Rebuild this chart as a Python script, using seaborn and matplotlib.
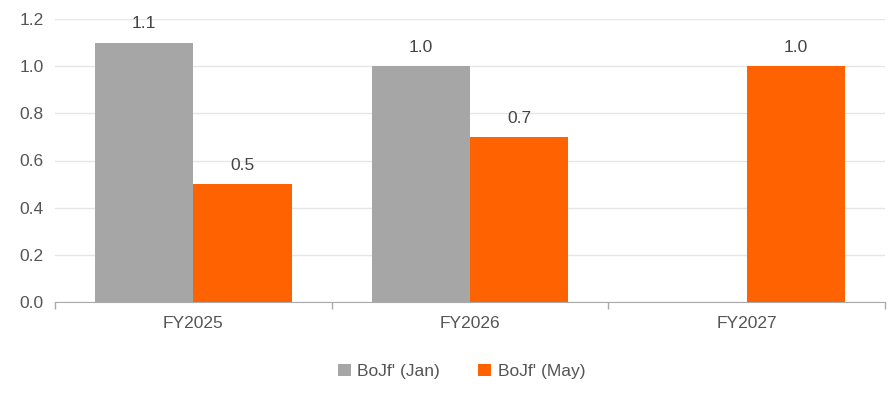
import matplotlib
matplotlib.use("Agg")
import matplotlib.pyplot as plt
import seaborn as sns
import pandas as pd
import numpy as np

categories = ["FY2025", "FY2026", "FY2027"]
jan_values = [1.1, 1.0, np.nan]
may_values = [0.5, 0.7, 1.0]
series_names = ["BoJf' (Jan)", "BoJf' (May)"]
y_ticks = [0.0, 0.2, 0.4, 0.6, 0.8, 1.0, 1.2]

df = pd.DataFrame({
    "cat": categories * 2,
    "series": [series_names[0]] * 3 + [series_names[1]] * 3,
    "value": jan_values + may_values,
})

sns.set_style("white")
plt.rcParams['font.family'] = ['Liberation Sans', 'DejaVu Sans']

fig = plt.figure(figsize=(8.9, 3.94), dpi=100)
ax = fig.add_axes([55/890, (394-302)/394, (885-55)/890, (302-19)/394])

sns.barplot(data=df, x="cat", y="value", hue="series",
            palette=["#a6a6a6", "#ff6200"], width=0.71, ax=ax,
            saturation=1, errorbar=None, zorder=3, linewidth=0)

ax.set_ylim(0, 1.2)
ax.set_xlim(-0.5, 2.5)
ax.set_yticks(y_ticks)
ax.set_yticklabels([f"{v:.1f}" for v in y_ticks])
ax.yaxis.grid(True, color="#e6e6e6", linewidth=1, zorder=0)
ax.set_axisbelow(True)
for s in ["left", "right", "top"]:
    ax.spines[s].set_visible(False)
ax.spines["bottom"].set_color("#aaaaaa")
ax.set_xlabel("")
ax.set_ylabel("")
fs = 12.5
ax.tick_params(axis="y", length=0, labelsize=fs, labelcolor="#555555", pad=8)
ax.tick_params(axis="x", which="major", length=0, labelsize=fs, labelcolor="#555555", pad=10)
ax.set_xticks([-0.5, 0.5, 1.5, 2.5], minor=True)
ax.tick_params(axis="x", which="minor", bottom=True, length=5, width=1, color="#aaaaaa")

for cont in ax.containers:
    labels = ["" if np.isnan(v) else f"{v:.1f}" for v in cont.datavalues]
    ax.bar_label(cont, labels=labels, padding=8, fontsize=fs, color="#444444")

leg = ax.legend(loc="upper center", bbox_to_anchor=(0.49, -0.165), ncol=2,
                frameon=False, fontsize=fs, handlelength=0.7, handleheight=0.7,
                columnspacing=2.2, handletextpad=0.4)
for t in leg.get_texts():
    t.set_color("#555555")

fig.savefig("out.png", dpi=100)
